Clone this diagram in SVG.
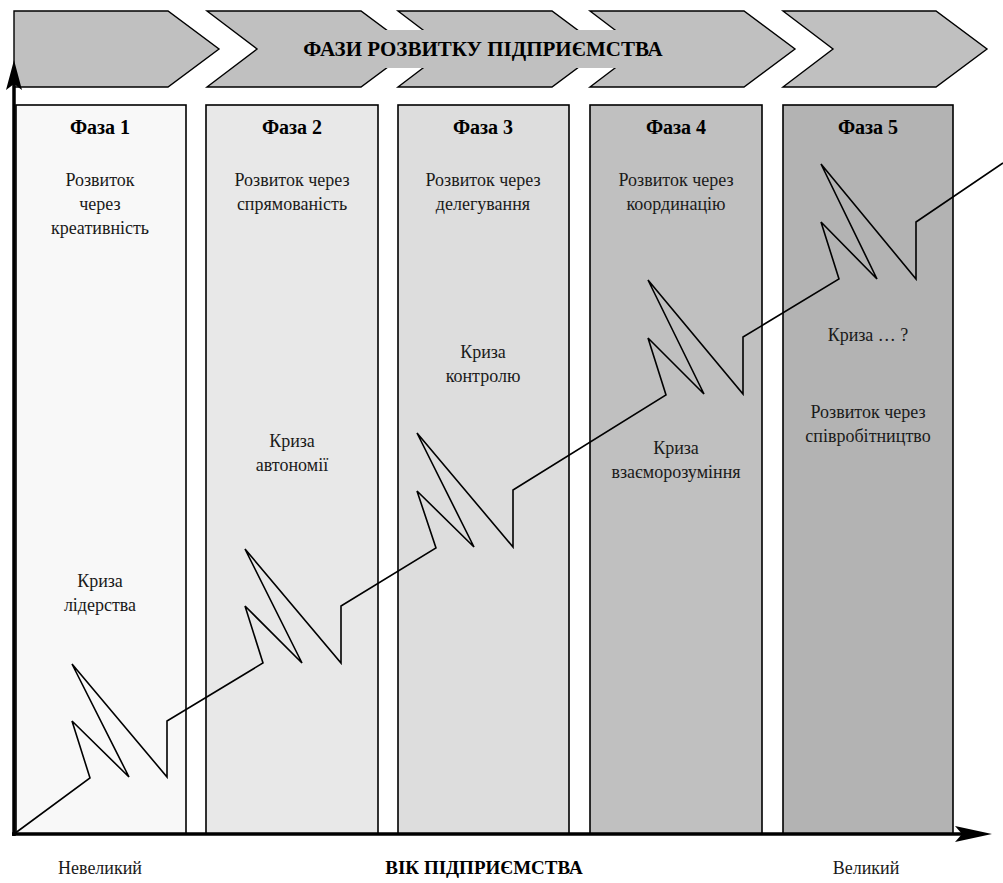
<svg xmlns="http://www.w3.org/2000/svg" width="1003" height="883" viewBox="0 0 1003 883">
<rect width="1003" height="883" fill="#fff"/>
<g id="chevrons" fill="#c0c0c0" stroke="#000" stroke-width="1.4">
<path d="M14,11 L168,11 L219,49 L168,87 L14,87 Z"/>
<path d="M207,11 L361,11 L412,49 L361,87 L207,87 L257,49 Z"/>
<path d="M398,11 L552,11 L603,49 L552,87 L398,87 L448,49 Z"/>
<path d="M590,11 L744,11 L795,49 L744,87 L590,87 L640,49 Z"/>
<path d="M783,11 L936,11 L987,49 L936,87 L783,87 L833,49 Z"/>
</g>
<g id="title">
<rect x="268" y="30" width="430" height="38" fill="#c0c0c0"/>
<text x="483" y="56" font-family="Liberation Serif, Tinos, Times New Roman, serif" style="font-family:'Liberation Serif',Tinos,serif" font-weight="bold" font-size="21" text-anchor="middle" fill="#000">ФАЗИ РОЗВИТКУ ПІДПРИЄМСТВА</text>
</g>
<g id="phase1">
<rect x="16" y="105" width="170" height="729" fill="#f8f8f8" stroke="#000" stroke-width="1.6"/>
<text font-family="Liberation Serif, Tinos, Times New Roman, serif" style="font-family:'Liberation Serif',Tinos,serif" font-weight="bold" font-size="20" text-anchor="middle" x="100" y="134">Фаза 1</text>
<text font-family="Liberation Serif, Tinos, Times New Roman, serif" style="font-family:'Liberation Serif',Tinos,serif" font-size="18" fill="#1a1a1a" text-anchor="middle" x="100" y="186">Розвиток</text>
<text font-family="Liberation Serif, Tinos, Times New Roman, serif" style="font-family:'Liberation Serif',Tinos,serif" font-size="18" fill="#1a1a1a" text-anchor="middle" x="100" y="210">через</text>
<text font-family="Liberation Serif, Tinos, Times New Roman, serif" style="font-family:'Liberation Serif',Tinos,serif" font-size="18" fill="#1a1a1a" text-anchor="middle" x="100" y="234">креативність</text>
<text font-family="Liberation Serif, Tinos, Times New Roman, serif" style="font-family:'Liberation Serif',Tinos,serif" font-size="18" fill="#1a1a1a" text-anchor="middle" x="100" y="587">Криза</text>
<text font-family="Liberation Serif, Tinos, Times New Roman, serif" style="font-family:'Liberation Serif',Tinos,serif" font-size="18" fill="#1a1a1a" text-anchor="middle" x="100" y="611">лідерства</text>
</g>
<g id="phase2">
<rect x="206" y="105" width="172" height="729" fill="#e8e8e8" stroke="#000" stroke-width="1.6"/>
<text font-family="Liberation Serif, Tinos, Times New Roman, serif" style="font-family:'Liberation Serif',Tinos,serif" font-weight="bold" font-size="20" text-anchor="middle" x="292" y="134">Фаза 2</text>
<text font-family="Liberation Serif, Tinos, Times New Roman, serif" style="font-family:'Liberation Serif',Tinos,serif" font-size="18" fill="#1a1a1a" text-anchor="middle" x="292" y="186">Розвиток через</text>
<text font-family="Liberation Serif, Tinos, Times New Roman, serif" style="font-family:'Liberation Serif',Tinos,serif" font-size="18" fill="#1a1a1a" text-anchor="middle" x="292" y="210">спрямованість</text>
<text font-family="Liberation Serif, Tinos, Times New Roman, serif" style="font-family:'Liberation Serif',Tinos,serif" font-size="18" fill="#1a1a1a" text-anchor="middle" x="292" y="447">Криза</text>
<text font-family="Liberation Serif, Tinos, Times New Roman, serif" style="font-family:'Liberation Serif',Tinos,serif" font-size="18" fill="#1a1a1a" text-anchor="middle" x="292" y="471">автономії</text>
</g>
<g id="phase3">
<rect x="398" y="105" width="171" height="729" fill="#dddddd" stroke="#000" stroke-width="1.6"/>
<text font-family="Liberation Serif, Tinos, Times New Roman, serif" style="font-family:'Liberation Serif',Tinos,serif" font-weight="bold" font-size="20" text-anchor="middle" x="483" y="134">Фаза 3</text>
<text font-family="Liberation Serif, Tinos, Times New Roman, serif" style="font-family:'Liberation Serif',Tinos,serif" font-size="18" fill="#1a1a1a" text-anchor="middle" x="483" y="186">Розвиток через</text>
<text font-family="Liberation Serif, Tinos, Times New Roman, serif" style="font-family:'Liberation Serif',Tinos,serif" font-size="18" fill="#1a1a1a" text-anchor="middle" x="483" y="210">делегування</text>
<text font-family="Liberation Serif, Tinos, Times New Roman, serif" style="font-family:'Liberation Serif',Tinos,serif" font-size="18" fill="#1a1a1a" text-anchor="middle" x="483" y="358">Криза</text>
<text font-family="Liberation Serif, Tinos, Times New Roman, serif" style="font-family:'Liberation Serif',Tinos,serif" font-size="18" fill="#1a1a1a" text-anchor="middle" x="483" y="382">контролю</text>
</g>
<g id="phase4">
<rect x="590" y="105" width="172" height="729" fill="#c0c0c0" stroke="#000" stroke-width="1.6"/>
<text font-family="Liberation Serif, Tinos, Times New Roman, serif" style="font-family:'Liberation Serif',Tinos,serif" font-weight="bold" font-size="20" text-anchor="middle" x="676" y="134">Фаза 4</text>
<text font-family="Liberation Serif, Tinos, Times New Roman, serif" style="font-family:'Liberation Serif',Tinos,serif" font-size="18" fill="#1a1a1a" text-anchor="middle" x="676" y="186">Розвиток через</text>
<text font-family="Liberation Serif, Tinos, Times New Roman, serif" style="font-family:'Liberation Serif',Tinos,serif" font-size="18" fill="#1a1a1a" text-anchor="middle" x="676" y="210">координацію</text>
<text font-family="Liberation Serif, Tinos, Times New Roman, serif" style="font-family:'Liberation Serif',Tinos,serif" font-size="18" fill="#1a1a1a" text-anchor="middle" x="676" y="454">Криза</text>
<text font-family="Liberation Serif, Tinos, Times New Roman, serif" style="font-family:'Liberation Serif',Tinos,serif" font-size="18" fill="#1a1a1a" text-anchor="middle" x="676" y="478">взаєморозуміння</text>
</g>
<g id="phase5">
<rect x="783" y="105" width="170" height="729" fill="#b3b3b3" stroke="#000" stroke-width="1.6"/>
<text font-family="Liberation Serif, Tinos, Times New Roman, serif" style="font-family:'Liberation Serif',Tinos,serif" font-weight="bold" font-size="20" text-anchor="middle" x="868" y="134">Фаза 5</text>
<text font-family="Liberation Serif, Tinos, Times New Roman, serif" style="font-family:'Liberation Serif',Tinos,serif" font-size="18" fill="#1a1a1a" text-anchor="middle" x="868" y="341">Криза  … ?</text>
<text font-family="Liberation Serif, Tinos, Times New Roman, serif" style="font-family:'Liberation Serif',Tinos,serif" font-size="18" fill="#1a1a1a" text-anchor="middle" x="868" y="418">Розвиток через</text>
<text font-family="Liberation Serif, Tinos, Times New Roman, serif" style="font-family:'Liberation Serif',Tinos,serif" font-size="18" fill="#1a1a1a" text-anchor="middle" x="868" y="442">співробітництво</text>
</g>
<g id="connectors">
<path fill="none" stroke="#000" stroke-width="1.6" d="M14,834 L90,778 L72,721 L129,777 L72,664 L167,777 L167,721 L263,663 L245,606 L302,663 L245,549 L341,663 L341,606 L436,548 L417,491 L474,547 L417,433 L513,547 L513,490 L666,395 L648,338 L704,394 L648,280 L743,394 L743,337 L839,279 L821,222 L877,279 L821,164 L916,279 L916,222 L1003,163"/>
<g stroke="#000" stroke-width="3.5">
<line x1="14" y1="836" x2="14" y2="80"/>
<line x1="12" y1="834" x2="970" y2="834"/>
</g>
<path d="M14,60 L22,90 L14,84 L6,90 Z" fill="#000"/>
<path d="M992,834 L955,826 L962,834 L955,842 Z" fill="#000"/>
</g>
<g id="labels">
<text font-family="Liberation Serif, Tinos, Times New Roman, serif" style="font-family:'Liberation Serif',Tinos,serif" font-size="18" fill="#1a1a1a" text-anchor="middle" x="100" y="874">Невеликий</text>
<text font-family="Liberation Serif, Tinos, Times New Roman, serif" style="font-family:'Liberation Serif',Tinos,serif" font-weight="bold" font-size="19" text-anchor="middle" x="484" y="874">ВІК ПІДПРИЄМСТВА</text>
<text font-family="Liberation Serif, Tinos, Times New Roman, serif" style="font-family:'Liberation Serif',Tinos,serif" font-size="18" fill="#1a1a1a" text-anchor="middle" x="866" y="874">Великий</text>
</g>
</svg>
